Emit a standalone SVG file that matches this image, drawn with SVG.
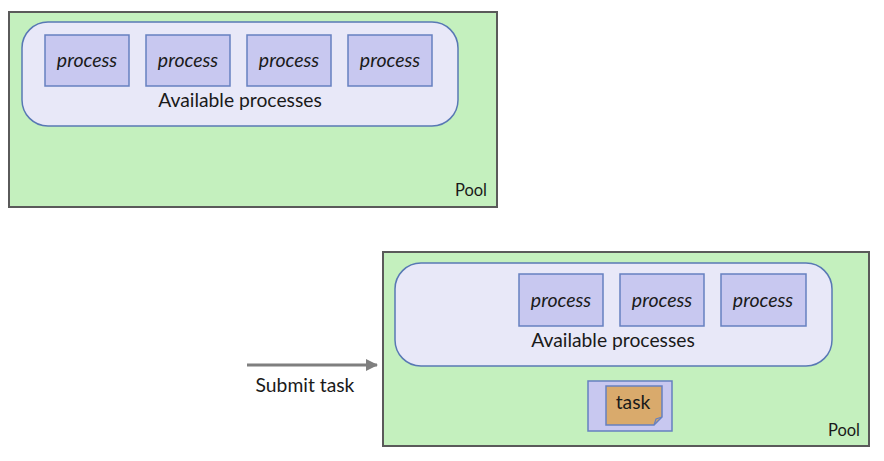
<svg xmlns="http://www.w3.org/2000/svg" width="884" height="461" viewBox="0 0 884 461">
<defs>
<style>
.pool{fill:#c4f0be;stroke:#5a5a5a;stroke-width:2}
.avail{fill:#e8e8f8;stroke:#5878b4;stroke-width:1.5}
.proc{fill:#c8c8f0;stroke:#6680c0;stroke-width:1.5}
.t{font-family:Lato,"Liberation Sans",sans-serif;fill:#1a1a1a}
.pt{font-size:19.5px;font-style:italic;text-anchor:middle}
.lbl{font-size:19.3px;text-anchor:middle}
.pl{font-size:16.5px;text-anchor:end}
</style>
<marker id="ah" markerWidth="12" markerHeight="12" refX="11" refY="6" orient="auto" markerUnits="userSpaceOnUse">
<path d="M0,0 L12,6 L0,12 Z" fill="#7f7f7f"/>
</marker>
</defs>
<rect width="884" height="461" fill="#ffffff"/>
<g id="pool1">
<rect class="pool" x="9" y="12" width="488" height="195"/>
<rect class="avail" x="22" y="22" width="436" height="104" rx="26"/>
<rect class="proc" x="45" y="35" width="84" height="51"/>
<text class="t pt" x="87" y="67">process</text>
<rect class="proc" x="146" y="35" width="84" height="51"/>
<text class="t pt" x="188" y="67">process</text>
<rect class="proc" x="247" y="35" width="84" height="51"/>
<text class="t pt" x="289" y="67">process</text>
<rect class="proc" x="348" y="35" width="84" height="51"/>
<text class="t pt" x="390" y="67">process</text>
<text class="t lbl" x="240" y="107">Available processes</text>
<text class="t pl" x="487" y="196">Pool</text>
</g>
<g id="pool2">
<rect class="pool" x="383" y="252" width="486" height="194"/>
<rect class="avail" x="395" y="263" width="437" height="103" rx="26"/>
<rect class="proc" x="519" y="274" width="84" height="52"/>
<text class="t pt" x="561" y="307">process</text>
<rect class="proc" x="620" y="274" width="84" height="52"/>
<text class="t pt" x="662" y="307">process</text>
<rect class="proc" x="721" y="274" width="85" height="52"/>
<text class="t pt" x="763" y="307">process</text>
<text class="t lbl" x="613" y="347">Available processes</text>
<text class="t pl" x="860" y="436">Pool</text>
</g>
<g id="task">
<rect class="proc" x="588" y="381" width="84" height="50"/>
<path d="M606,386 H662 V417 L654,425 H606 Z" fill="#d9aa6c" stroke="#6680c0" stroke-width="1.5"/>
<path d="M654,425 L656,419 L662,417" fill="none" stroke="#6680c0" stroke-width="1.2"/>
<text class="t lbl" x="633" y="409">task</text>
</g>
<g id="connectors">
<line x1="247" y1="365" x2="377" y2="365" stroke="#7f7f7f" stroke-width="3" marker-end="url(#ah)"/>
<text class="t lbl" x="305" y="392">Submit task</text>
</g>
</svg>
